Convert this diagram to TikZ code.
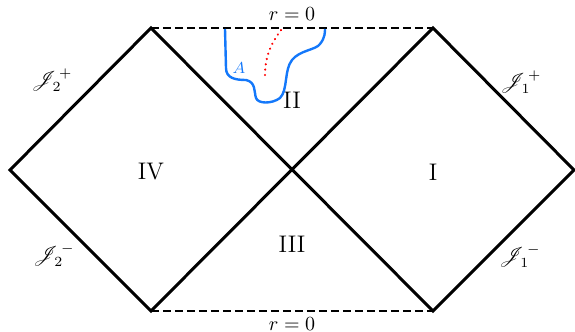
\documentclass[tikz,border=0pt]{standalone}
\usepackage{mathrsfs}
\definecolor{myblue}{RGB}{20,120,250}
\begin{document}
\begin{tikzpicture}[x=0.5pt,y=-0.5pt,
  edge/.style={line width=1.5pt,line join=miter},
  hor/.style={line width=1.4pt,dash pattern=on 4pt off 2pt},
  reg/.style={font=\large},
  lab/.style={font=\normalsize}]
\useasboundingbox (0,0) rectangle (575,332);
\coordinate (L) at (10,170);
\coordinate (TL) at (151,28);
\coordinate (C) at (292,170);
\coordinate (TR) at (433,28);
\coordinate (R) at (574,170);
\coordinate (BL) at (151,311);
\coordinate (BR) at (433,311);
\draw[edge] (L) -- (TL) -- (BR) -- (R) -- (TR) -- (BL) -- cycle;
\draw[hor] (TL) -- (TR);
\draw[hor] (BL) -- (BR);
\node[lab] (rt) at (292,14) {$r=0$};
\node[lab] (rb) at (292,324) {$r=0$};
\node[reg] (I) at (433,172) {I};
\node[reg] (II) at (292,100) {II};
\node[reg] (III) at (292,244) {III};
\node[reg] (IV) at (151,172) {IV};
\node[lab] (j2p) at (52,80) {$\mathscr{J}_2^{\,+}$};
\node[lab] (j2m) at (54,255) {$\mathscr{J}_2^{\,-}$};
\node[lab] (j1p) at (521,82) {$\mathscr{J}_1^{\,+}$};
\node[lab] (j1m) at (520,256) {$\mathscr{J}_1^{\,-}$};
\draw[myblue,line width=1.2pt] (225,29) -- (226,68) .. controls (226,78) and (235,80) .. (246,80)
  .. controls (256,82) and (254,92) .. (256,98) .. controls (258,104) and (272,104) .. (280,98)
  .. controls (288,90) and (284,70) .. (292,60) .. controls (300,50) and (316,50) .. (320,44)
  .. controls (325,38) and (325,32) .. (325,29);
\node[myblue,font=\footnotesize] (A) at (239,68) {$A$};
\draw[red,line width=1.1pt,dash pattern=on 0.1pt off 2.6pt,line cap=round] (281,30) .. controls (270,45) and (265,58) .. (265,75);
\end{tikzpicture}
\end{document}
